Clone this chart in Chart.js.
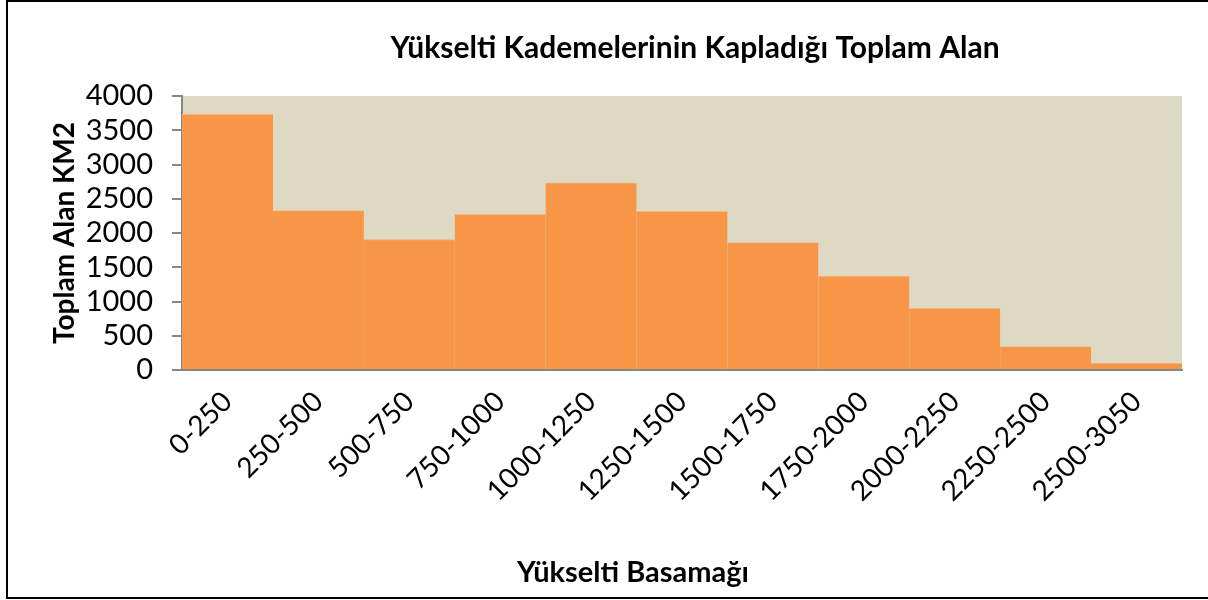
<!DOCTYPE html>
<html>
<head>
<meta charset="utf-8">
<script src="https://cdn.jsdelivr.net/npm/chart.js@4"></script>
<style>
  body { margin: 0; background: #fff; }
  canvas { display: block; }
</style>
</head>
<body>
<canvas id="chart" width="1208" height="600"></canvas>
<script>
// chart data
const categories = ['0-250', '250-500', '500-750', '750-1000', '1000-1250', '1250-1500',
  '1500-1750', '1750-2000', '2000-2250', '2250-2500', '2500-3050'];
const areaValues = [3732, 2327, 1903, 2273, 2731, 2317, 1859, 1370, 902, 341, 102];
const yTicks = [0, 500, 1000, 1500, 2000, 2500, 3000, 3500, 4000];

const chartTitle = 'Yükselti Kademelerinin Kapladığı Toplam Alan';
const xTitle = 'Yükselti Basamağı';
const yTitle = 'Toplam Alan KM2';

const FONT = 'Lato, Carlito, Calibri, sans-serif';

// beige plot background, outer frame and the two centred titles
const decorPlugin = {
  id: 'decor',
  beforeDraw(chart) {
    const { ctx, chartArea } = chart;
    ctx.save();
    ctx.fillStyle = '#DDD9C3';
    ctx.fillRect(chartArea.left, chartArea.top,
      chartArea.right - chartArea.left, chartArea.bottom - chartArea.top);
    ctx.restore();
  },
  afterDraw(chart) {
    const ctx = chart.ctx;
    ctx.save();
    ctx.strokeStyle = '#000';
    ctx.lineWidth = 2;
    ctx.strokeRect(7, 1, 1210, 597);

    ctx.fillStyle = '#000';
    ctx.textAlign = 'center';
    ctx.textBaseline = 'middle';
    ctx.font = 'bold 30px ' + FONT;
    ctx.fillText(chartTitle, 695, 48);
    ctx.font = 'bold 29px ' + FONT;
    ctx.fillText(xTitle, 633, 573);
    ctx.restore();
  }
};

const ctx = document.getElementById('chart').getContext('2d');
new Chart(ctx, {
  type: 'bar',
  data: {
    labels: categories,
    datasets: [{
      data: areaValues,
      backgroundColor: '#F79646',
      borderColor: '#F6B584',
      borderWidth: { top: 1, left: 0, right: 0, bottom: 0 },
      borderSkipped: 'bottom',
      barPercentage: 1,
      categoryPercentage: 1
    }]
  },
  options: {
    responsive: false,
    animation: false,
    layout: { padding: { left: 44, right: 26, top: 96, bottom: 6 } },
    plugins: {
      legend: { display: false },
      title: { display: false },
      tooltip: { enabled: false }
    },
    scales: {
      x: {
        afterFit(scale) { scale.height = 224; },
        grid: { display: false },
        border: { display: true, color: '#868686', width: 2 },
        ticks: {
          color: '#000',
          font: { family: FONT, size: 28 },
          minRotation: 45,
          maxRotation: 45,
          autoSkip: false,
          padding: 7
        }
      },
      y: {
        min: 0,
        max: 4000,
        afterFit(scale) { scale.width = 138; },
        afterBuildTicks(scale) { scale.ticks = yTicks.map(v => ({ value: v })); },
        grid: {
          drawOnChartArea: false,
          color: '#868686',
          lineWidth: 2,
          tickLength: 10
        },
        border: { display: true, color: '#868686', width: 2 },
        ticks: {
          color: '#000',
          font: { family: FONT, size: 29 },
          autoSkip: false,
          padding: 19,
          callback: v => String(v)
        },
        title: {
          display: true,
          text: yTitle,
          color: '#000',
          font: { family: FONT, size: 28, weight: 'bold' },
          padding: 4
        }
      }
    }
  },
  plugins: [decorPlugin]
});
</script>
</body>
</html>
